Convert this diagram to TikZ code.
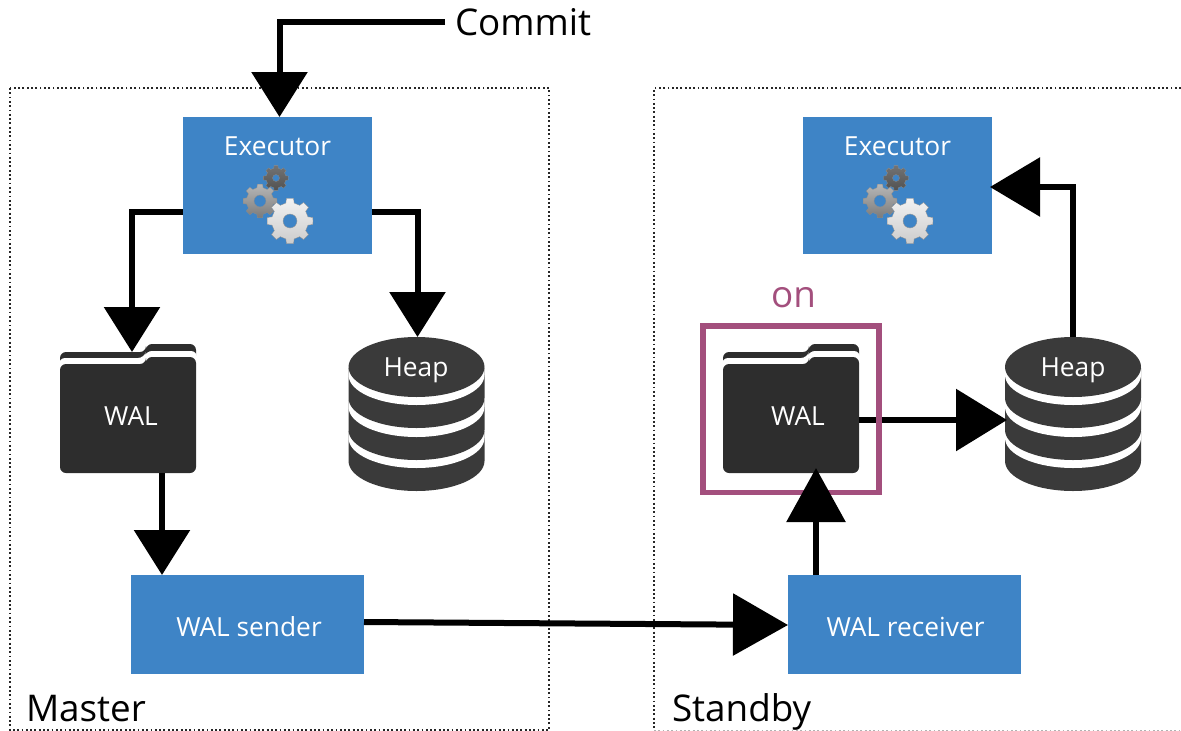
\documentclass[tikz,border=0pt]{standalone}
\usepackage{fontspec}
\setmainfont{Open Sans}
\usetikzlibrary{arrows.meta,calc}
\definecolor{boxblue}{HTML}{3E84C6}
\definecolor{folderdark}{HTML}{2D2D2D}
\definecolor{heapdark}{HTML}{3A3A3A}
\definecolor{onpurple}{HTML}{A34F7D}
\newcommand{\gearshape}[7]{% x y r n holer top bottom
  \path[top color=#6,bottom color=#7,even odd rule,draw=black!45,line width=0.3pt,shift={(#1,#2)}]
    (0:#3) \foreach \k in {1,...,#4}{
      -- ({(\k-1)*360/#4+70/#4}:#3)
      -- ({(\k-1)*360/#4+105/#4}:#3*0.8)
      -- ({(\k-1)*360/#4+255/#4}:#3*0.8)
      -- ({(\k-1)*360/#4+290/#4}:#3)
    } -- cycle
    (0,0) circle[radius=#5];}
\newcommand{\gearset}[1]{%
  \gearshape{#1+276}{178}{12.5}{8}{3.5}{black!55}{black!68}
  \gearshape{#1+260}{201}{17}{8}{6}{black!28}{black!52}
  \gearshape{#1+290}{221}{23}{8}{7}{black!5}{black!20}}
\newcommand{\folderart}[1]{%
  \begin{scope}[xshift=#1 pt]
    \fill[folderdark,rounded corners=6pt] (60,372) -- (60,352) -- (146,352) -- (146,344) -- (196,344) -- (196,372) -- cycle;
    \fill[white,rounded corners=6pt] (59,374) -- (59,358) -- (144,358) -- (146,351) -- (197,351) -- (197,374) -- cycle;
    \fill[folderdark,rounded corners=6pt] (60,473) -- (60,364) -- (146,364) -- (146,357) -- (196,357) -- (196,473) -- cycle;
  \end{scope}}
\newcommand{\heaplayer}[3]{% cx cy colour
  \fill[#3] (#1-68,#2-30) -- (#1-68,#2) arc[start angle=180,end angle=0,x radius=68,y radius=30] -- (#1+68,#2-30) -- cycle;}
\newcommand{\heapart}[1]{%
  \heaplayer{#1}{461}{heapdark}
  \heaplayer{#1}{438}{white}
  \heaplayer{#1}{430}{heapdark}
  \heaplayer{#1}{407}{white}
  \heaplayer{#1}{398}{heapdark}
  \heaplayer{#1}{375}{white}
  \fill[heapdark] (#1,367) ellipse[x radius=68,y radius=30];}
\tikzset{
  bluebox/.style={fill=boxblue,inner sep=0pt,outer sep=0pt},
  anchorbox/.style={inner sep=0pt,outer sep=0pt},
  innerlabel/.style={text=white,font=\fontsize{26.3}{30}\selectfont,inner sep=0pt,outer sep=0pt},
  biglabel/.style={text=black,font=\fontsize{36.8}{40}\selectfont,inner sep=0pt,outer sep=0pt},
  frameline/.style={dash pattern=on 1.8pt off 2.5pt,line width=1.8pt,black!85},
  flowM/.style={line width=6pt,black,-{Triangle[length=45pt,width=55pt]}},
  flowT/.style={line width=6pt,black,-{Triangle[length=55pt,width=61pt]}},
  flowH/.style={line width=6pt,black,-{Triangle[length=51pt,width=61pt]}},
  flowU/.style={line width=6pt,black,-{Triangle[length=54pt,width=58pt]}},
  flowE/.style={line width=6pt,black,-{Triangle[length=50pt,width=58pt]}}
}
\begin{document}
\begin{tikzpicture}[x=1pt,y=-1pt]
\useasboundingbox (0,0) rectangle (1181,731);
% frames
\draw[frameline] (10,88) rectangle (549,730);
\draw[frameline] (1181,88) -- (654,88) -- (654,729);
\draw[frameline,black!30,line width=1pt] (654,730.3) -- (1181,730.3);
% boxes
\node[bluebox,minimum width=189pt,minimum height=137pt] (execM) at (277.5,185.5) {};
\node[innerlabel] (execMt) at (277.5,146.5) {Executor};
\node[bluebox,minimum width=189pt,minimum height=137pt] (execS) at (897.5,185.5) {};
\node[innerlabel] (execSt) at (897.5,146.5) {Executor};
\gearset{0}
\gearset{620}
\node[bluebox,minimum width=233pt,minimum height=99pt] (sender) at (247.5,624.5) {};
\node[innerlabel] (sendert) at (249,626.5) {WAL sender};
\node[bluebox,minimum width=233pt,minimum height=99pt] (receiver) at (904.5,624.5) {};
\node[innerlabel] (receivert) at (905.5,626.5) {WAL receiver};
% folders and heaps
\folderart{0}
\folderart{663}
\node[anchorbox,minimum width=136pt,minimum height=129pt] (walM) at (128,408.5) {};
\node[anchorbox,minimum width=136pt,minimum height=129pt] (walS) at (791,408.5) {};
\node[innerlabel] (walMt) at (131,416) {WAL};
\node[innerlabel] (walSt) at (798,416) {WAL};
\heapart{416.5}
\heapart{1073}
\node[anchorbox,minimum width=136pt,minimum height=154pt] (heapM) at (416.5,414) {};
\node[anchorbox,minimum width=136pt,minimum height=154pt] (heapS) at (1073,414) {};
\node[innerlabel] (heapMt) at (416,370) {Heap};
\node[innerlabel] (heapSt) at (1073,370) {Heap};
% labels
\node[biglabel,anchor=west] (commit) at (455,22) {Commit};
\node[biglabel,anchor=base west] (master) at (26,721) {Master};
\node[biglabel,anchor=base west] (standby) at (672,721) {Standby};
\node[biglabel,text=onpurple,anchor=base] (onlabel) at (793.5,307) {on};
% connectors
\draw[flowM] ([xshift=-10pt]commit.west) -| ([xshift=2pt]execM.north);
\draw[flowM] ([yshift=-26.5pt]execM.west) -| ([xshift=4pt,yshift=-8pt]walM.north);
\draw[flowM] ([yshift=-26.5pt]execM.east) -| ([xshift=1pt]heapM.north);
\draw[flowM] ([xshift=34pt]walM.south) -- ([xshift=-85.5pt]sender.north);
\draw[flowT] ([yshift=2.5pt]sender.east) -- ([yshift=-0.5pt]receiver.west);
\draw[flowH] ([yshift=-11.5pt]walS.east) -- ([yshift=-6pt,xshift=2pt]heapS.west);
\node[draw=onpurple,line width=5.5pt,minimum width=176pt,minimum height=166.5pt,inner sep=0pt,outer sep=0pt] (onbox) at (791,409.25) {};
\draw[flowU] ([xshift=-88.5pt]receiver.north) -- ([xshift=25pt,yshift=5pt]walS.south);
\draw[flowE] (heapS.north) |- ([xshift=-2pt,yshift=-1.5pt]execS.east);
\end{tikzpicture}
\end{document}
